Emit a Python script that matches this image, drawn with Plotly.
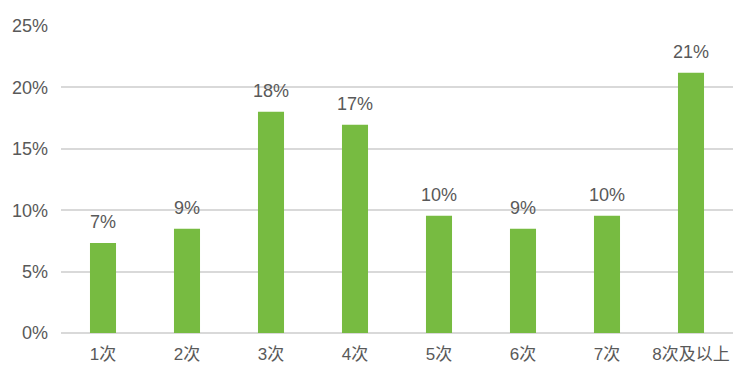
import plotly.graph_objects as go

categories = ["1次", "2次", "3次", "4次", "5次", "6次", "7次", "8次及以上"]
values = [7.33, 8.49, 18.02, 16.96, 9.55, 8.49, 9.55, 21.2]
labels = ["7%", "9%", "18%", "17%", "10%", "9%", "10%", "21%"]
y_ticks = [0, 5, 10, 15, 20, 25]
y_ticktext = ["0%", "5%", "10%", "15%", "20%", "25%"]

FONT = "'Liberation Sans', Arial, 'Noto Sans CJK SC', sans-serif"
TXT = "#595959"

fig = go.Figure(go.Bar(
    x=categories, y=values,
    marker=dict(color="#77bb41", line=dict(width=0)),
    width=0.31,
    hoverinfo="skip",
))

for c, v, t in zip(categories, values, labels):
    fig.add_annotation(x=c, y=v, text=t, showarrow=False, yanchor="bottom",
                       yshift=9, font=dict(size=18, color=TXT, family=FONT))

fig.update_layout(
    width=752, height=377,
    margin=dict(l=61, r=19, t=26, b=44),
    paper_bgcolor="white", plot_bgcolor="white",
    showlegend=False,
    font=dict(family=FONT, size=17, color=TXT),
    xaxis=dict(showgrid=False, zeroline=False, showline=False,
               ticks="", tickfont=dict(size=17, color=TXT), ticklabelstandoff=9),
    yaxis=dict(range=[0, 25], tickvals=y_ticks, ticktext=y_ticktext,
               showgrid=True, gridcolor="#d9d9d9", gridwidth=1.5,
               zeroline=True, zerolinecolor="#d9d9d9", zerolinewidth=1.5,
               showline=False, ticks="", ticklabelstandoff=12,
               tickfont=dict(size=18, color=TXT)),
)

fig.write_html("out.html")
